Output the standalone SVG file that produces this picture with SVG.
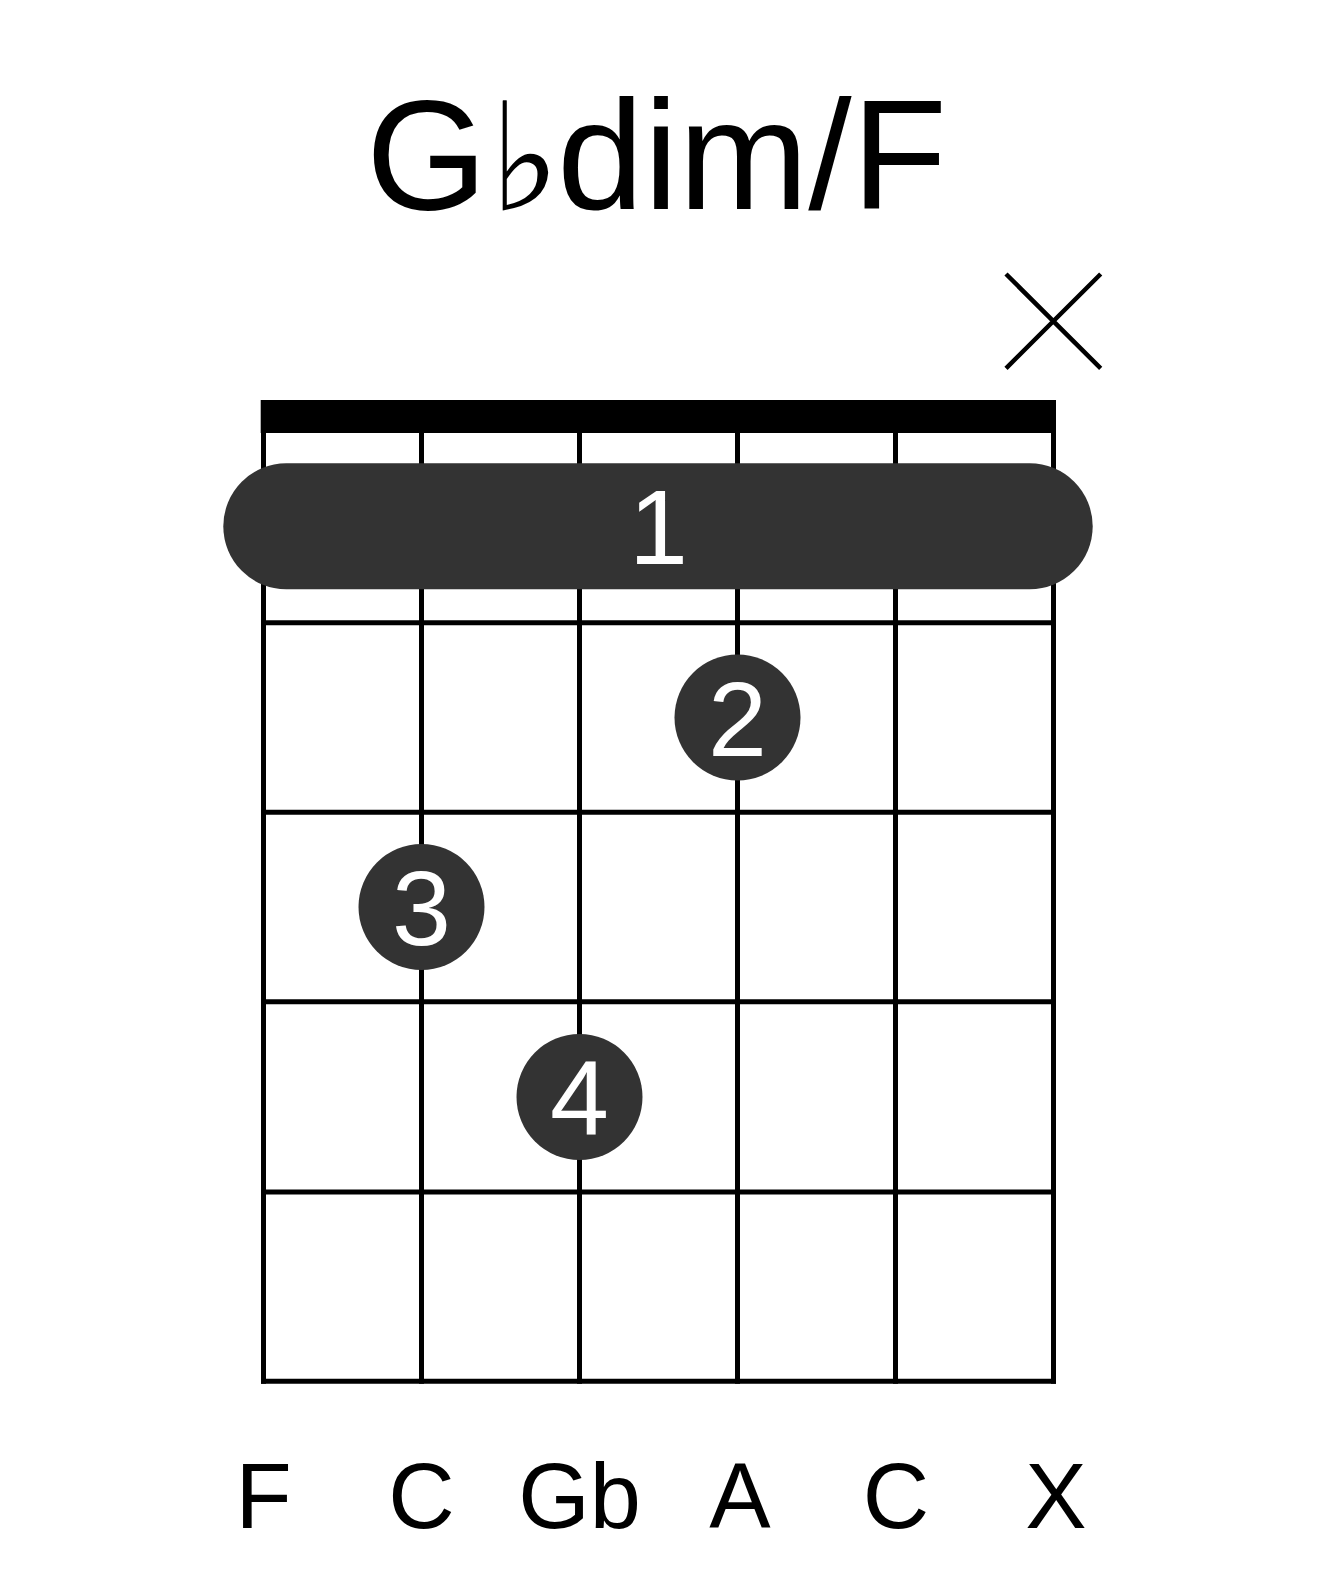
<svg xmlns="http://www.w3.org/2000/svg" width="1317" height="1581" viewBox="0 0 1317 1581">
<style>
.t{font-family:"Liberation Sans",Arial,sans-serif;fill:#000}
.str{stroke:#000;stroke-width:5}
.dot{fill:#333333}
.fn{font-family:"Liberation Sans",Arial,sans-serif;font-size:106px;fill:#fff;text-anchor:middle}
.lab{font-family:"Liberation Sans",Arial,sans-serif;font-size:92px;fill:#000;text-anchor:middle}
</style>
<rect width="1317" height="1581" fill="#fff"/>
<g id="title">
<text class="t" font-size="156"><tspan x="366" y="208.5">G</tspan><tspan x="489.5" y="210" font-family="DejaVu Sans" font-size="150">♭</tspan><tspan x="557" y="208.5">dim/F</tspan></text>
</g>
<g id="mute">
<path d="M1006 274 L1100.7 368.3 M1100.7 274 L1006 368.3" stroke="#000" stroke-width="4.5" fill="none"/>
</g>
<g id="grid">
<rect x="260.7" y="400" width="795.3" height="33" fill="#000"/>
<g class="str">
<line x1="263.5" y1="430" x2="263.5" y2="1383.8"/>
<line x1="421.5" y1="430" x2="421.5" y2="1383.8"/>
<line x1="579.5" y1="430" x2="579.5" y2="1383.8"/>
<line x1="737.5" y1="430" x2="737.5" y2="1383.8"/>
<line x1="895.5" y1="430" x2="895.5" y2="1383.8"/>
<line x1="1053.5" y1="430" x2="1053.5" y2="1383.8"/>
<line x1="261" y1="622.7" x2="1056" y2="622.7"/>
<line x1="261" y1="812.3" x2="1056" y2="812.3"/>
<line x1="261" y1="1001.7" x2="1056" y2="1001.7"/>
<line x1="261" y1="1192" x2="1056" y2="1192"/>
<line x1="261" y1="1381.3" x2="1056" y2="1381.3"/>
</g>
</g>
<g id="barre">
<rect class="dot" x="223.3" y="463.3" width="869.4" height="126" rx="63" ry="63"/>
<text class="fn" x="658.5" y="564">1</text>
</g>
<g id="finger2">
<circle class="dot" cx="737.5" cy="717.5" r="63"/>
<text class="fn" x="737.5" y="755.5">2</text>
</g>
<g id="finger3">
<circle class="dot" cx="421.5" cy="907" r="63"/>
<text class="fn" x="421.5" y="945">3</text>
</g>
<g id="finger4">
<circle class="dot" cx="579.5" cy="1097" r="63"/>
<text class="fn" x="579.5" y="1135">4</text>
</g>
<g id="labels">
<text class="lab" x="263.5" y="1528">F</text>
<text class="lab" x="421.5" y="1528">C</text>
<text class="lab" x="579.5" y="1528">Gb</text>
<text class="lab" x="740" y="1528">A</text>
<text class="lab" x="896" y="1528">C</text>
<text class="lab" x="1056" y="1528">X</text>
</g>
</svg>
